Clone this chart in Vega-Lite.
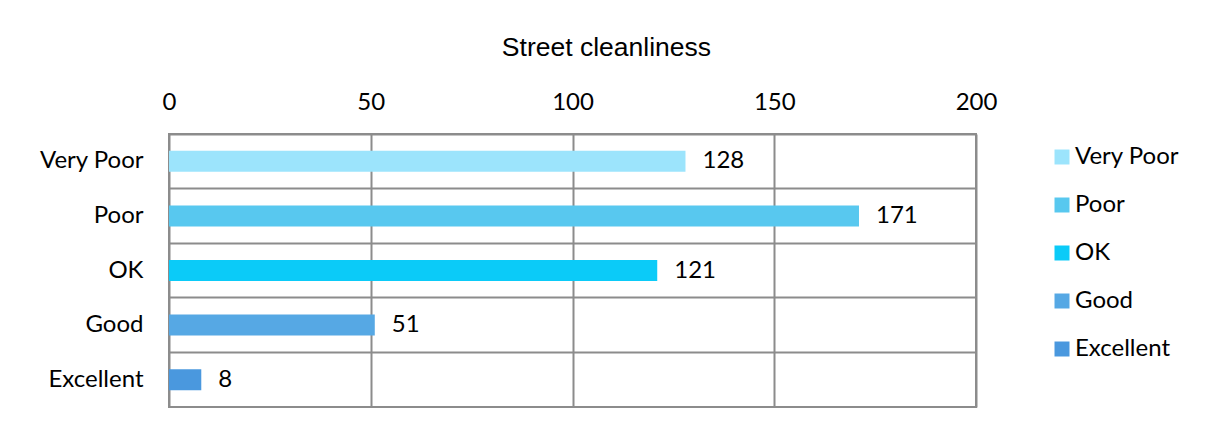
{
  "$schema": "https://vega.github.io/schema/vega-lite/v6.json",
  "width": 807,
  "height": 273,
  "autosize": {"type": "none"},
  "padding": {"left": 169, "top": 134, "right": 232, "bottom": 31},
  "background": "white",
  "title": {
    "text": "Street cleanliness",
    "font": "Liberation Sans",
    "fontSize": 26.5,
    "fontWeight": "normal",
    "color": "#000000",
    "anchor": "middle",
    "frame": "bounds",
    "dx": -3,
    "offset": 29
  },
  "data": {
    "values": [
      {"rating": "Very Poor", "count": 128},
      {"rating": "Poor", "count": 171},
      {"rating": "OK", "count": 121},
      {"rating": "Good", "count": 51},
      {"rating": "Excellent", "count": 8}
    ]
  },
  "encoding": {
    "y": {
      "field": "rating",
      "type": "nominal",
      "sort": ["Very Poor", "Poor", "OK", "Good", "Excellent"],
      "scale": {"paddingInner": 0, "paddingOuter": 0},
      "axis": {
        "title": null,
        "ticks": false,
        "domain": false,
        "labelPadding": 26,
        "labelFont": "Lato",
        "labelFontSize": 24,
        "labelColor": "#000000",
        "grid": true,
        "bandPosition": 0,
        "gridColor": "#8c8c8c",
        "gridWidth": 2
      }
    },
    "x": {
      "field": "count",
      "type": "quantitative",
      "scale": {"domain": [0, 200], "nice": false},
      "axis": {
        "orient": "top",
        "title": null,
        "values": [0, 50, 100, 150, 200],
        "ticks": false,
        "domain": false,
        "labelPadding": 20,
        "labelFont": "Lato",
        "labelFontSize": 24,
        "labelColor": "#000000",
        "labelFlush": false,
        "grid": true,
        "gridColor": "#8c8c8c",
        "gridWidth": 2
      }
    }
  },
  "layer": [
    {
      "mark": {"type": "bar", "height": {"band": 0.385}},
      "encoding": {
        "color": {
          "field": "rating",
          "type": "nominal",
          "sort": ["Very Poor", "Poor", "OK", "Good", "Excellent"],
          "scale": {
            "domain": ["Very Poor", "Poor", "OK", "Good", "Excellent"],
            "range": ["#9ce4fc", "#58c8ef", "#0bcbf8", "#56a8e4", "#4a98de"]
          },
          "legend": {
            "title": null,
            "orient": "none",
            "legendX": 881,
            "legendY": 11,
            "padding": 0,
            "symbolType": "square",
            "symbolSize": 225,
            "symbolStrokeWidth": 0,
            "labelFont": "Lato",
            "labelFontSize": 24,
            "labelColor": "#000000",
            "labelOffset": 1,
            "rowPadding": 24,
            "labelLimit": 300
          }
        }
      }
    },
    {
      "mark": {"type": "text", "align": "left", "baseline": "middle", "dx": 17, "font": "Lato", "fontSize": 24, "color": "#000000"},
      "encoding": {
        "text": {"field": "count", "type": "quantitative"}
      }
    }
  ],
  "config": {
    "view": {"stroke": "#8c8c8c", "strokeWidth": 2}
  }
}
